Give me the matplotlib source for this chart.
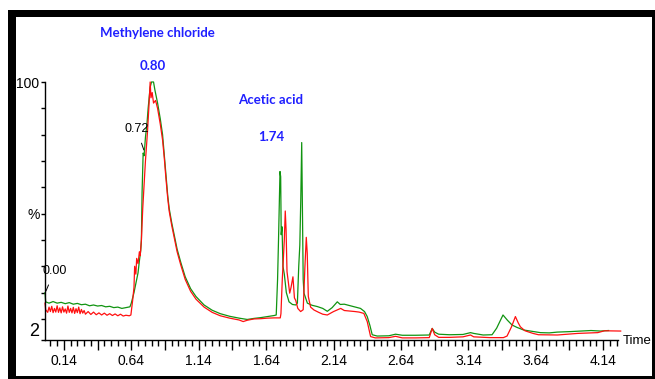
import matplotlib
matplotlib.use("Agg")
import matplotlib.pyplot as plt
from matplotlib import font_manager
from matplotlib.patches import Rectangle

# chromatogram traces (time in min, intensity in %)
green_t = [0.000, 0.005, 0.03, 0.06, 0.09, 0.12, 0.15, 0.18, 0.21, 0.24, 0.27, 0.30,
           0.33, 0.36, 0.39, 0.42, 0.45, 0.48, 0.51, 0.54, 0.57, 0.60, 0.63, 0.64,
           0.66, 0.68, 0.69, 0.70, 0.71, 0.715, 0.72, 0.728, 0.735, 0.745, 0.756,
           0.765, 0.78, 0.79, 0.805, 0.815, 0.835, 0.855, 0.872, 0.885, 0.896, 0.91,
           0.921, 0.94, 0.958, 0.98, 1.007, 1.04, 1.08, 1.12, 1.18, 1.24, 1.30, 1.37,
           1.44, 1.50, 1.55, 1.60, 1.65, 1.70, 1.715, 1.725, 1.732, 1.74, 1.743,
           1.748, 1.752, 1.758, 1.765, 1.775, 1.79, 1.81, 1.835, 1.86, 1.872, 1.882,
           1.89, 1.897, 1.904, 1.91, 1.915, 1.921, 1.946, 1.98, 2.02, 2.06, 2.094,
           2.13, 2.168, 2.19, 2.22, 2.242, 2.28, 2.31, 2.34, 2.37, 2.39, 2.41, 2.427,
           2.464, 2.55, 2.60, 2.65, 2.75, 2.85, 2.872, 2.89, 2.92, 3.00, 3.10, 3.156,
           3.18, 3.25, 3.316, 3.35, 3.397, 3.43, 3.464, 3.50, 3.55, 3.61, 3.674,
           3.74, 3.80, 3.90, 3.97, 4.05, 4.12, 4.18]
green_y = [20.0, 16.5, 16.0, 16.6, 16.0, 16.3, 15.8, 16.2, 15.6, 15.9, 15.4, 15.6,
           15.0, 15.3, 14.9, 15.1, 14.6, 14.8, 14.3, 14.5, 14.0, 14.3, 14.6, 16.0,
           20.0, 25.0, 27.5, 32.0, 36.0, 40.0, 58.0, 73.0, 72.0, 79.0, 84.0,
           90.0, 98.0, 100.0, 100.0, 97.0, 92.0, 86.0, 80.0, 72.0, 65.0, 57.0,
           52.0, 46.5, 42.0, 36.5, 31.5, 26.0, 21.5, 18.5, 15.3, 13.3, 12.0, 11.0,
           10.3, 9.8, 10.2, 10.5, 10.9, 11.3, 11.5, 25.0, 40.0, 60.0, 66.0,
           64.0, 42.0, 45.0, 30.0, 27.0, 20.0, 16.5, 15.5, 15.3, 16.0, 30.0,
           38.0, 55.0, 77.0, 50.0, 25.0, 19.8, 16.0, 15.2, 14.7, 14.0, 12.9,
           14.3, 16.5, 15.5, 15.6, 15.3, 14.8, 14.4, 14.0, 12.8, 10.9, 7.5, 4.0,
           3.5, 3.6, 4.2, 3.8, 3.8, 3.9, 6.4, 5.0, 4.2, 4.0, 4.1, 4.8,
           4.5, 3.9, 4.0, 6.5, 11.5, 9.5, 7.7, 6.8, 5.8, 5.3, 4.8,
           4.7, 5.0, 5.2, 5.4, 5.6, 5.4, 5.6]

red_t = [0.000, 0.005, 0.02, 0.03, 0.04, 0.05, 0.06, 0.07, 0.08, 0.09, 0.10, 0.11,
         0.12, 0.13, 0.14, 0.15, 0.16, 0.17, 0.18, 0.19, 0.20, 0.21, 0.22, 0.23,
         0.24, 0.25, 0.26, 0.27, 0.28, 0.29, 0.30, 0.32, 0.34, 0.36, 0.38, 0.40,
         0.42, 0.44, 0.46, 0.48, 0.50, 0.52, 0.54, 0.56, 0.58, 0.60, 0.625, 0.637,
         0.65, 0.66, 0.665, 0.674, 0.68, 0.69, 0.70, 0.706, 0.715, 0.725, 0.736,
         0.745, 0.76, 0.77, 0.78, 0.786, 0.795, 0.805, 0.82, 0.835, 0.855, 0.872,
         0.885, 0.896, 0.91, 0.921, 0.94, 0.958, 0.98, 1.007, 1.04, 1.08, 1.12,
         1.18, 1.24, 1.30, 1.37, 1.44, 1.47, 1.50, 1.55, 1.60, 1.65, 1.70, 1.745,
         1.75, 1.76, 1.775, 1.782, 1.788, 1.795, 1.805, 1.815, 1.825, 1.839, 1.85,
         1.86, 1.875, 1.896, 1.915, 1.928, 1.938, 1.945, 1.953, 1.97, 1.995, 2.03,
         2.06, 2.094, 2.14, 2.193, 2.22, 2.26, 2.30, 2.33, 2.365, 2.39, 2.415,
         2.45, 2.55, 2.60, 2.65, 2.75, 2.85, 2.872, 2.89, 2.92, 3.00, 3.10, 3.156,
         3.18, 3.30, 3.40, 3.427, 3.46, 3.489, 3.51, 3.526, 3.56, 3.62, 3.66, 3.80,
         3.95, 4.10, 4.15, 4.27]
red_y = [16.0, 13.5, 12.5, 14.5, 12.8, 14.8, 12.4, 14.0, 12.6, 15.0, 12.5, 14.2,
         12.3, 14.6, 12.6, 13.8, 12.2, 14.9, 12.5, 14.0, 12.3, 14.4, 12.1, 13.9,
         12.4, 14.5, 12.0, 13.6, 12.2, 13.2, 11.8, 12.8, 11.7, 12.6, 11.6, 12.3,
         11.5, 12.2, 11.4, 12.0, 11.3, 11.9, 11.2, 11.8, 11.1, 11.4, 11.2, 11.5,
         17.0, 22.0, 30.0, 27.0, 33.0, 31.0, 35.5, 34.0, 40.0, 52.0, 62.0,
         70.0, 81.0, 90.0, 100.0, 94.0, 96.0, 92.0, 93.0, 90.0, 84.0, 78.0,
         71.0, 64.0, 56.0, 51.0, 45.5, 41.0, 35.5, 30.5, 25.0, 20.5, 17.5,
         14.5, 12.5, 11.2, 10.3, 9.6, 9.0, 9.5, 10.0, 10.1, 10.3, 10.4, 10.4,
         12.0, 25.0, 40.0, 51.0, 44.0, 28.0, 24.0, 19.8, 22.0, 26.0, 18.0,
         17.0, 14.0, 12.8, 13.5, 30.0, 41.0, 35.0, 18.5, 14.5, 13.4, 12.5,
         11.8, 11.5, 12.8, 14.0, 13.2, 13.0, 12.8, 12.6, 12.1, 9.0, 3.3,
         2.8, 2.9, 3.4, 2.8, 2.8, 2.9, 6.4, 4.0, 3.0, 3.0, 3.2, 3.9,
         3.2, 2.9, 2.9, 3.5, 7.0, 10.9, 8.5, 7.0, 5.5, 4.5, 4.0, 3.9,
         4.5, 4.8, 5.5, 5.4]

major_ticks = [0.14, 0.39, 0.64, 0.89, 1.14, 1.39, 1.64, 1.89, 2.14, 2.39,
               2.64, 2.89, 3.14, 3.39, 3.64, 3.89, 4.14]
tick_labels = ["0.14", "", "0.64", "", "1.14", "", "1.64", "", "2.14", "",
               "2.64", "", "3.14", "", "3.64", "", "4.14"]
ytick_vals = [2, 10, 20, 30, 40, 50, 60, 70, 80, 90, 100]
ytick_labels = ["2", "", "", "", "", "%", "", "", "", "", "100"]

# narrow font if available
names = {f.name for f in font_manager.fontManager.ttflist}
narrow = "Liberation Sans Narrow" if "Liberation Sans Narrow" in names else "Liberation Sans"
label_font = "Lato" if "Lato" in names else "DejaVu Sans"

W, H = 655, 379
fig = plt.figure(figsize=(W / 100, H / 100), dpi=100)
ax = fig.add_axes([45 / W, (H - 340) / H, (618 - 45) / W, (340 - 82) / H])

ax.plot(green_t, green_y, color="#119411", lw=0.9, clip_on=False)
ax.plot(red_t, red_y, color="#ff1010", lw=0.9, clip_on=False)

ax.set_xlim(0, 4.25)
ax.set_ylim(2, 100)
for s in ["top", "right"]:
    ax.spines[s].set_visible(False)
ax.spines["left"].set_linewidth(1.0)
ax.spines["bottom"].set_linewidth(1.0)

ax.set_xticks(major_ticks)
ax.set_xticklabels(tick_labels, fontfamily=narrow, fontsize=10)
ax.set_xticks([0.04 + 0.05 * i for i in range(85) if round((0.04 + 0.05 * i - 0.14) / 0.25, 3) % 1 != 0],
              minor=True)
ax.tick_params(axis="x", which="major", length=7, width=1, direction="out", pad=3)
ax.tick_params(axis="x", which="minor", length=4, width=1, direction="out")

ax.set_yticks(ytick_vals)
ax.set_yticklabels(ytick_labels, fontfamily=narrow, fontsize=10)
ax.tick_params(axis="y", length=3, width=1, direction="out", pad=1)
for lab in ax.get_yticklabels():
    if lab.get_text() == "2":
        lab.set_fontsize(13)
        lab.set_va("bottom")

fig.text(623 / W, (H - 341) / H, "Time", fontfamily=narrow, fontsize=9.5,
         ha="left", va="center")

blue = "#1f1fff"
ax.text(0.837, 118.6, "Methylene chloride", color=blue, fontweight="bold",
        fontfamily=label_font, fontsize=9.5, ha="center", va="center")
ax.text(0.80, 106, "0.80", color=blue, fontweight="bold",
        fontfamily=label_font, fontsize=9.5, ha="center", va="center")
ax.text(1.674, 93.2, "Acetic acid", color=blue, fontweight="bold",
        fontfamily=label_font, fontsize=9.5, ha="center", va="center")
ax.text(1.68, 79.1, "1.74", color=blue, fontweight="bold",
        fontfamily=label_font, fontsize=9.5, ha="center", va="center")

ax.annotate("0.72", xy=(0.733, 74.2), xytext=(0.68, 82.1), fontfamily=narrow,
            fontsize=9, ha="center", va="center",
            arrowprops=dict(arrowstyle="-", color="black", lw=0.7, shrinkA=4, shrinkB=0))
ax.annotate("0.00", xy=(0.007, 20.6), xytext=(0.07, 28.2), fontfamily=narrow,
            fontsize=9, ha="center", va="center",
            arrowprops=dict(arrowstyle="-", color="black", lw=0.7, shrinkA=4, shrinkB=0))

# black frame around the picture
def px_rect(x0, y0, x1, y1):
    fig.add_artist(Rectangle((x0 / W, (H - y1) / H), (x1 - x0) / W, (y1 - y0) / H,
                             transform=fig.transFigure, color="black", lw=0))

px_rect(8, 10, 16, 379)
px_rect(8, 10, 655, 17)
px_rect(652, 10, 655, 379)
px_rect(8, 376, 655, 379)

fig.savefig("out.png", dpi=100)
